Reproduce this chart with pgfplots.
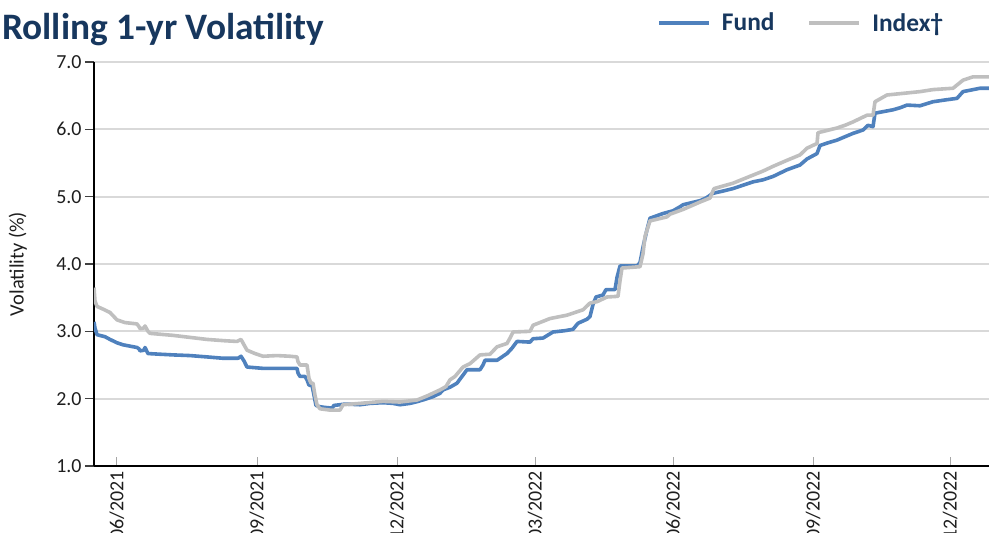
\documentclass[border=0pt]{standalone}
\usepackage{pgfplots}
\pgfplotsset{compat=1.18}
\usepackage{fontspec}
\setmainfont{Carlito}
\definecolor{navy}{RGB}{23,55,94}
\definecolor{fundblue}{RGB}{79,129,189}
\definecolor{idxgray}{RGB}{191,191,191}
\definecolor{gridgray}{RGB}{217,217,217}
\definecolor{ticktext}{RGB}{30,30,30}

\begin{document}
\begin{tikzpicture}
\begin{axis}[
  name=ax, at={(0,0)}, anchor=south west,
  scale only axis, width=895bp, height=404bp,
  xmin=94, xmax=989, ymin=1, ymax=7,
  axis x line=bottom, axis y line=left,
  axis line style={-, line width=2.5bp, black},
  ytick={1,2,3,4,5,6,7},
  xtick={117,257,397,535,673,813,950},
  xticklabels={06/2021,09/2021,12/2021,03/2022,06/2022,09/2022,12/2022},
  /pgf/number format/.cd, fixed, fixed zerofill, precision=1, assume math mode=true,
  /pgfplots/.cd,
  tick align=outside, major tick length=9bp,
  ytick style={line width=1.2bp, black!75},
  xtick style={line width=1bp, gray!70, yshift=9bp},
  xticklabel shift=-7bp,
  yticklabel style={font=\fontsize{20}{20}\selectfont, text=ticktext},
  xticklabel style={font=\fontsize{20}{20}\selectfont, text=ticktext, rotate=90, anchor=east},
  ymajorgrids, major grid style={gridgray, line width=2bp},
  ylabel={Volatility (\%)},
  every axis y label/.style={at={(axis description cs:-0.085,0.5)}, rotate=90, anchor=center, font=\fontsize{20.5}{20.5}\selectfont, text=ticktext},
  legend columns=2,
  legend style={at={(axis description cs:0.629,1.097)}, anchor=west, draw=none, fill=none, inner sep=0pt,
    font=\bfseries\fontsize{25.5}{25.5}\selectfont, text=navy,
    nodes={inner sep=0pt},
    /tikz/every odd column/.append style={column sep=11bp},
    /tikz/every even column/.append style={column sep=33bp}},
  legend cell align=left,
  legend image code/.code={\draw[#1, line width=3.8bp] (0bp,0bp) -- (50bp,0bp);},
]
\addplot[fundblue, line width=3.6bp, line join=round] coordinates {
(94,3.14) (95,3.05) (97,2.95) (105,2.92) (110,2.88) (117,2.83) (123,2.80) (130,2.78) (137,2.76) (139,2.74) (140,2.71) (144,2.72) (145,2.76) (147,2.70) (148,2.67) (160,2.66) (173,2.65) (190,2.64) (207,2.62) (215,2.61) (223,2.60) (238,2.60) (241,2.63) (244,2.56) (247,2.47) (255,2.46) (263,2.45) (280,2.45) (297,2.45) (298,2.38) (300,2.33) (305,2.33) (307,2.28) (309,2.20) (312,2.20) (314,2.05) (316,1.90) (320,1.88) (325,1.87) (332,1.86) (334,1.90) (340,1.91) (345,1.92) (360,1.91) (370,1.93) (383,1.94) (393,1.93) (400,1.91) (410,1.93) (417,1.955) (425,1.99) (433,2.03) (440,2.08) (443,2.13) (450,2.17) (457,2.23) (462,2.33) (467,2.43) (480,2.43) (483,2.50) (485,2.57) (497,2.57) (502,2.62) (507,2.67) (512,2.75) (517,2.85) (530,2.84) (533,2.89) (543,2.90) (553,2.99) (565,3.01) (573,3.03) (578,3.12) (587,3.18) (590,3.22) (593,3.40) (596,3.51) (603,3.54) (606,3.62) (615,3.62) (617,3.80) (620,3.97) (637,3.97) (640,4.02) (643,4.25) (647,4.51) (650,4.68) (663,4.75) (673,4.79) (680,4.85) (683,4.88) (697,4.93) (700,4.94) (706,4.98) (713,5.05) (722,5.08) (733,5.12) (743,5.17) (753,5.22) (763,5.25) (773,5.30) (780,5.35) (787,5.40) (800,5.47) (807,5.56) (817,5.64) (820,5.76) (828,5.80) (837,5.84) (845,5.89) (853,5.94) (863,5.99) (868,6.06) (873,6.04) (875,6.24) (893,6.29) (900,6.32) (907,6.36) (920,6.35) (933,6.41) (947,6.44) (957,6.46) (963,6.56) (980,6.61) (989,6.61)
};
\addlegendentry{Fund}
\addplot[idxgray, line width=3.6bp, line join=round] coordinates {
(94,3.65) (95,3.45) (97,3.37) (103,3.33) (110,3.28) (117,3.17) (125,3.13) (137,3.11) (139,3.07) (140,3.04) (144,3.05) (145,3.08) (148,3.00) (150,2.97) (173,2.94) (190,2.91) (207,2.88) (225,2.86) (237,2.85) (241,2.88) (244,2.80) (247,2.72) (255,2.67) (263,2.63) (277,2.64) (290,2.63) (297,2.62) (298,2.55) (300,2.50) (307,2.50) (309,2.30) (311,2.23) (313,2.23) (315,2.05) (317,1.91) (320,1.85) (330,1.83) (340,1.83) (343,1.91) (360,1.93) (383,1.96) (400,1.95) (417,1.98) (427,2.04) (440,2.13) (446,2.18) (450,2.28) (455,2.33) (463,2.47) (470,2.52) (480,2.65) (490,2.66) (497,2.77) (507,2.82) (510,2.90) (513,2.99) (530,3.00) (533,3.09) (550,3.19) (567,3.24) (583,3.32) (590,3.42) (597,3.44) (607,3.51) (618,3.52) (620,3.75) (622,3.94) (640,3.96) (643,4.15) (645,4.41) (650,4.64) (667,4.70) (670,4.74) (683,4.81) (700,4.92) (710,4.98) (714,5.12) (733,5.20) (743,5.26) (753,5.32) (763,5.38) (773,5.45) (787,5.54) (800,5.62) (807,5.72) (817,5.79) (818,5.95) (837,6.02) (845,6.06) (853,6.11) (867,6.21) (873,6.21) (875,6.41) (887,6.51) (907,6.54) (920,6.56) (933,6.59) (953,6.61) (963,6.73) (973,6.78) (989,6.78)
};
\addlegendentry{Index†}
\end{axis}
\node[anchor=base west, inner sep=0pt, font=\bfseries\fontsize{37.5}{37.5}\selectfont, text=navy] at (-92bp,426bp) {Rolling 1-yr Volatility};
\pgfresetboundingbox
\path[use as bounding box] (-94bp,-67bp) rectangle (895bp,466bp);
\end{tikzpicture}
\end{document}
